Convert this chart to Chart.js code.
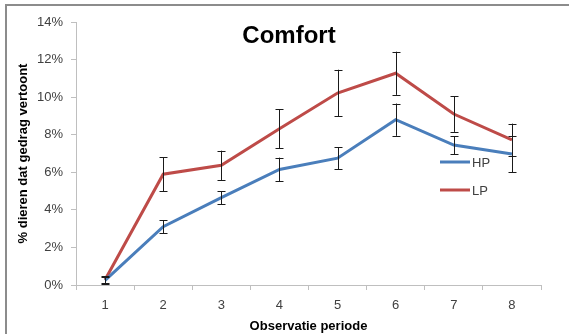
<!DOCTYPE html>
<html>
<head>
<meta charset="utf-8">
<script src="https://cdn.jsdelivr.net/npm/chart.js@4"></script>
<style>
  html, body { margin: 0; padding: 0; background: #fff; }
  #wrap { position: relative; width: 569px; height: 334px; }
  #frame { position: absolute; left: 5px; top: 4px; width: 600px; height: 400px; border-left: 2px solid #8c8c8c; border-top: 2px solid #8c8c8c; box-sizing: border-box; pointer-events: none; }
</style>
</head>
<body>
<div id="wrap">
  <canvas id="chart" width="569" height="334"></canvas>
  <div id="frame"></div>
</div>
<script>
// Observation periods and percentage of animals showing comfort behaviour
const periods = ['1', '2', '3', '4', '5', '6', '7', '8'];
const hpValues = [0.25, 3.1, 4.65, 6.15, 6.75, 8.8, 7.45, 6.97];
const hpErrors = [0.2, 0.35, 0.35, 0.63, 0.58, 0.86, 0.48, 0.96];
const lpValues = [0.28, 5.9, 6.37, 8.32, 10.22, 11.27, 9.1, 7.72];
const lpErrors = [0.18, 0.9, 0.78, 1.03, 1.24, 1.15, 0.95, 0.87];
const yTicks = [0, 2, 4, 6, 8, 10, 12, 14];

const chartTitle = 'Comfort';
const xTitle = 'Observatie periode';
const yTitle = '% dieren dat gedrag vertoont';

const FONT = "'Liberation Sans', Arial, sans-serif";
const HP_COLOR = '#4a7ebb';
const LP_COLOR = '#be4b48';

// Vertical error bars with caps, drawn from the error arrays through the scales
const errorBars = {
  id: 'errorBars',
  afterDatasetsDraw(chart) {
    const { ctx, scales: { x, y } } = chart;
    ctx.save();
    ctx.strokeStyle = '#1a1a1a';
    ctx.lineWidth = 1;
    chart.data.datasets.forEach(ds => {
      ds.data.forEach((v, i) => {
        const e = ds.errors[i];
        const px = Math.round(x.getPixelForValue(i)) + 0.5;
        const top = y.getPixelForValue(v + e);
        const bot = y.getPixelForValue(v - e);
        ctx.beginPath();
        ctx.moveTo(px, top); ctx.lineTo(px, bot);
        ctx.moveTo(px - 4, Math.round(top) + 0.5); ctx.lineTo(px + 4, Math.round(top) + 0.5);
        ctx.moveTo(px - 4, Math.round(bot) + 0.5); ctx.lineTo(px + 4, Math.round(bot) + 0.5);
        ctx.stroke();
      });
    });
    ctx.restore();
  }
};

// Title inside the plot area and a line legend at the right
const overlay = {
  id: 'overlay',
  afterDraw(chart) {
    const { ctx } = chart;
    ctx.save();
    ctx.fillStyle = '#000';
    ctx.font = 'bold 24px ' + FONT;
    ctx.textAlign = 'center';
    ctx.textBaseline = 'alphabetic';
    ctx.fillText(chartTitle, 289, 43);

    ctx.font = '13px ' + FONT;
    ctx.textAlign = 'left';
    ctx.textBaseline = 'middle';
    chart.data.datasets.forEach((ds, i) => {
      const ly = 162 + i * 28;
      ctx.strokeStyle = ds.borderColor;
      ctx.lineWidth = 3;
      ctx.beginPath();
      ctx.moveTo(440, ly); ctx.lineTo(470, ly);
      ctx.stroke();
      ctx.fillStyle = '#404040';
      ctx.fillText(ds.label, 472, ly + 1);
    });
    ctx.restore();
  }
};

new Chart(document.getElementById('chart'), {
  type: 'line',
  data: {
    labels: periods,
    datasets: [
      { label: 'HP', data: hpValues, errors: hpErrors, borderColor: HP_COLOR, backgroundColor: HP_COLOR, borderWidth: 3, pointRadius: 0, tension: 0 },
      { label: 'LP', data: lpValues, errors: lpErrors, borderColor: LP_COLOR, backgroundColor: LP_COLOR, borderWidth: 3, pointRadius: 0, tension: 0 }
    ]
  },
  options: {
    responsive: false,
    animation: false,
    devicePixelRatio: 1,
    layout: { padding: { left: 16, right: 28, top: 22, bottom: 0 } },
    plugins: { legend: { display: false }, title: { display: false }, tooltip: { enabled: false } },
    scales: {
      x: {
        type: 'category',
        offset: true,
        grid: { offset: true, drawOnChartArea: false, color: '#bfbfbf', tickLength: 5 },
        border: { color: '#bfbfbf', width: 1 },
        ticks: { color: '#404040', font: { family: FONT, size: 13 }, padding: 8, maxRotation: 0 },
        title: { display: true, text: xTitle, color: '#000', font: { family: FONT, size: 13, weight: 'bold' }, padding: { top: 1, bottom: 0 } },
        afterFit(scale) { scale.height = 49; }
      },
      y: {
        min: 0, max: 14,
        afterBuildTicks(scale) { scale.ticks = yTicks.map(v => ({ value: v })); },
        grid: { drawOnChartArea: false, color: '#bfbfbf', tickLength: 5 },
        border: { color: '#bfbfbf', width: 1 },
        ticks: { color: '#404040', font: { family: FONT, size: 13 }, padding: 8, callback: v => v + '%' },
        title: { display: true, text: yTitle, color: '#000', font: { family: FONT, size: 13, weight: 'bold' }, padding: { top: 0, bottom: 0 } },
        afterFit(scale) { scale.width = 60; }
      }
    }
  },
  plugins: [errorBars, overlay]
});
</script>
</body>
</html>
